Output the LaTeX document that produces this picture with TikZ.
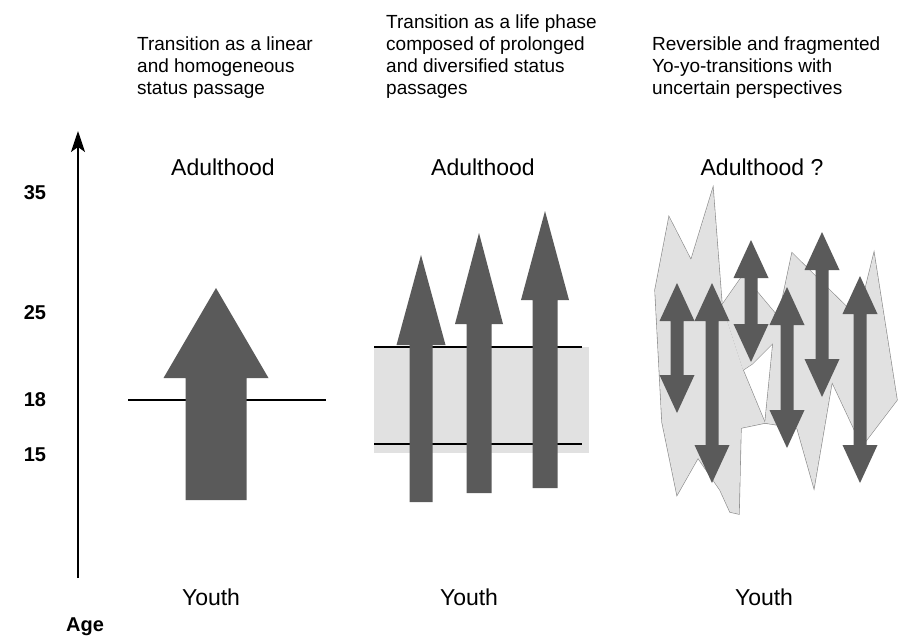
\documentclass[tikz,border=0pt]{standalone}
\usepackage{fontspec}
\setmainfont{Liberation Sans}
\usetikzlibrary{arrows.meta}

\definecolor{shaftgray}{HTML}{5A5A5A}
\definecolor{bandgray}{HTML}{E1E1E1}
\definecolor{edgegray}{HTML}{8A8A8A}

% double-headed block arrow: centre x, top tip y, bottom tip y
\newcommand\yoyoarrow[3]{%
  \fill[shaftgray] (#1,#2) -- ({#1+17.5},{#2+38}) -- ({#1+6.5},{#2+38})
    -- ({#1+6.5},{#3-38}) -- ({#1+17.5},{#3-38}) -- (#1,#3)
    -- ({#1-17.5},{#3-38}) -- ({#1-6.5},{#3-38}) -- ({#1-6.5},{#2+38})
    -- ({#1-17.5},{#2+38}) -- cycle;}

% single upward block arrow: centre x, tip y, head base y, bottom y, half head, half shaft
\newcommand\uparrowblock[6]{%
  \fill[shaftgray] (#1,#2) -- ({#1+#5},#3) -- ({#1+#6},#3) -- ({#1+#6},#4)
    -- ({#1-#6},#4) -- ({#1-#6},#3) -- ({#1-#5},#3) -- cycle;}

\begin{document}
\begin{tikzpicture}[x=1pt,y=-1pt,
  header/.style={font=\fontsize{19}{22}\selectfont, align=left, anchor=south west, inner sep=0pt},
  stage/.style={font=\fontsize{23}{26}\selectfont, inner sep=0pt},
  agenum/.style={font=\bfseries\fontsize{20}{22}\selectfont, inner sep=0pt},
  limit/.style={line width=1.1pt, black},
  patch/.style={fill=bandgray},
  patchedge/.style={draw=edgegray, line width=1.2pt, line join=miter}]
\useasboundingbox (0,0) rectangle (912,641);

% ---- headings
\node[header] (h1) at (137,99) {Transition as a linear\\and homogeneous\\status passage};
\node[header] (h2) at (386,99) {Transition as a life phase\\composed of prolonged\\and diversified status\\passages};
\node[header] (h3) at (652,99) {Reversible and fragmented\\Yo-yo-transitions with\\uncertain perspectives};

% ---- age axis
\coordinate (axbot) at (78,578);
\coordinate (axtop) at (78,131);
\draw[line width=1.1pt, -{Stealth[length=21pt,width=14pt,inset=5pt]}] (axbot) -- (axtop);
\node[agenum] (a35) at (35,193) {35};
\node[agenum] (a25) at (35,313) {25};
\node[agenum] (a18) at (35,400) {18};
\node[agenum] (a15) at (35,455) {15};
\node[agenum] (age) at (85,627) {Age};

% ---- stage labels
\node[stage] (ad1) at (223,167) {Adulthood};
\node[stage] (ad2) at (483,167) {Adulthood};
\node[stage] (ad3) at (762,167) {Adulthood ?};
\node[stage] (y1) at (211,597) {Youth};
\node[stage] (y2) at (469,597) {Youth};
\node[stage] (y3) at (764,597) {Youth};

% ---- panel 1: one linear passage
\coordinate (l1a) at (128,400);
\coordinate (l1b) at (326,400);
\draw[limit] (l1a) -- (l1b);
\uparrowblock{216}{288}{378}{500}{52.5}{30.5}

% ---- panel 2: prolonged passages through the 15--25 band
\fill[bandgray] (374,347) rectangle (589,453);
\coordinate (l2a) at (374,347);
\coordinate (l2b) at (582,347);
\coordinate (l2c) at (374,444);
\coordinate (l2d) at (582,444);
\draw[limit] (l2a) -- (l2b);
\draw[limit] (l2c) -- (l2d);
\uparrowblock{421}{255}{345}{502}{24.5}{11.5}
\uparrowblock{479}{233}{324}{493}{24}{12.5}
\uparrowblock{545}{211}{300}{488}{24}{12.5}

% ---- panel 3: fragmented patches (outline first, fills on top keep only the outer edge)
\def\patchA{(655,290) -- (669,217) -- (691,260) -- (713,188) -- (722,305) -- (743,370) -- (765,423) -- (741,428) -- (739,514) -- (730,512) -- (720,490) -- (698,458) -- (677,495) -- (662,422) -- cycle}
\def\patchB{(722,305) -- (743,275) -- (800,343) -- (773,343) -- (752,364) -- (743,370) -- cycle}
\def\patchC{(792,253) -- (858,318) -- (874,253) -- (897,400) -- (862,446) -- (832,382) -- (814,488) -- (797,428) -- (765,423) -- (773,343) -- cycle}
\draw[patchedge] \patchA;
\draw[patchedge] \patchB;
\draw[patchedge] \patchC;
\fill[patch] \patchA;
\fill[patch] \patchB;
\fill[patch] \patchC;

\yoyoarrow{677}{283}{413}
\yoyoarrow{712}{283}{483}
\yoyoarrow{751}{240}{362}
\yoyoarrow{787}{287}{448}
\yoyoarrow{822}{232}{397}
\yoyoarrow{860}{276}{483}
\end{tikzpicture}
\end{document}
